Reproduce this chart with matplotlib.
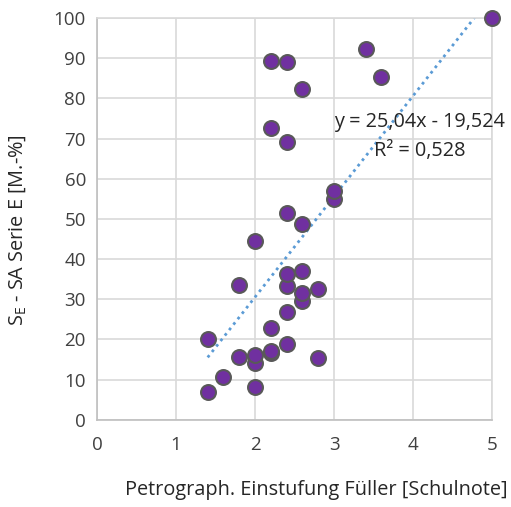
import matplotlib
matplotlib.use("Agg")
import matplotlib.pyplot as plt
import numpy as np

plt.rcParams['font.family'] = ['Open Sans', 'DejaVu Sans']

x_vals = [1.4, 1.4, 1.6, 1.8, 1.8, 2.0, 2.0, 2.0, 2.0, 2.2, 2.2, 2.2, 2.2, 2.2,
          2.4, 2.4, 2.4, 2.4, 2.4, 2.4, 2.4, 2.6, 2.6, 2.6, 2.6, 2.6,
          2.8, 2.8, 3.0, 3.0, 3.4, 3.6, 5.0]
y_vals = [7.0, 20.1, 10.7, 15.7, 33.6, 8.2, 14.2, 16.2, 44.5, 16.5, 17.2, 22.9, 72.6, 89.3,
          18.9, 26.9, 33.3, 36.3, 51.5, 69.2, 89.0, 29.6, 31.6, 37.0, 48.8, 82.3,
          15.4, 32.6, 55.0, 57.0, 92.3, 85.3, 100.0]
slope = 25.04
intercept = -19.524
eq_text = "y = 25,04x - 19,524"
r2_text = "R² = 0,528"
x_ticks = [0, 1, 2, 3, 4, 5]
y_ticks = [0, 10, 20, 30, 40, 50, 60, 70, 80, 90, 100]

fs = 13.5
fs_lab = 14.3
fig = plt.figure(figsize=(5.11, 5.07), dpi=100)
ax = fig.add_axes([0.19, 0.172, 0.773, 0.7925])
ax.set_xlim(0, 5)
ax.set_ylim(0, 100)
ax.set_xticks(x_ticks)
ax.set_yticks(y_ticks)
ax.grid(True, color='#D9D9D9', linewidth=1.2, zorder=0)
for s in ax.spines.values():
    s.set_color('#D9D9D9')
    s.set_linewidth(1.2)
ax.spines['left'].set_color('#BFBFBF')
ax.spines['bottom'].set_color('#BFBFBF')
ax.tick_params(length=0, labelsize=fs, colors='#404040', pad=8)
ax.tick_params(axis='x', pad=12)

xt = np.array([min(x_vals), max(x_vals)])
ax.plot(xt, slope * xt + intercept, linestyle=(0, (1, 1.5)), color='#5B9BD5', linewidth=2, zorder=2)
ax.scatter(x_vals, y_vals, s=115, color='#7030A0', edgecolors='#595959', linewidths=1.5, zorder=3, clip_on=False)

ax.text(5.16, 74, eq_text, ha='right', va='center', fontsize=fs_lab, color='#262626', zorder=4)
ax.text(4.08, 67, r2_text, ha='center', va='center', fontsize=fs_lab, color='#262626', zorder=4)

ax.set_xlabel("Petrograph. Einstufung Füller [Schulnote]", fontsize=fs_lab, color='#262626')
ax.set_ylabel(r"S$_\mathregular{E}$ - SA Serie E [M.-%]", fontsize=fs_lab, color='#262626')
ax.xaxis.set_label_coords(0.554, -0.15)
ax.yaxis.set_label_coords(-0.175, 0.473)

fig.savefig("out.png", dpi=100)
